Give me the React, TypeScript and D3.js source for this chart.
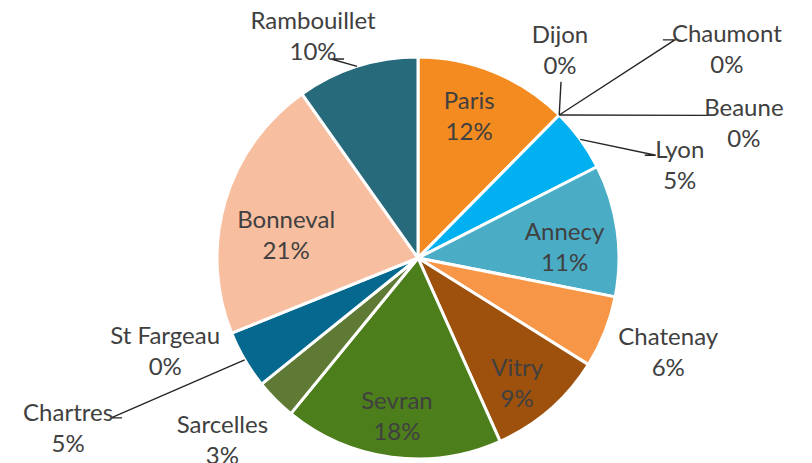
import React from "react";
import * as d3 from "d3";

// ---- data ----
const categories = [
  "Paris", "Dijon", "Chaumont", "Beaune", "Lyon", "Annecy", "Chatenay",
  "Vitry", "Sevran", "Sarcelles", "Chartres", "St Fargeau", "Bonneval", "Rambouillet",
];
const values = [12.4, 0, 0, 0, 5.1, 10.6, 5.8, 9.4, 17.6, 3.3, 4.7, 0, 21.3, 9.8];
const colors = [
  "#F38B21", "#7F7F7F", "#7F7F7F", "#7F7F7F", "#00B0F0", "#4BACC6", "#F79646",
  "#9E500D", "#4C7E1C", "#5F7A34", "#05698F", "#A5A5A5", "#F8BEA0", "#276A7B",
];

// label placement (polar: angle in degrees clockwise from 12 o'clock, radius in px)
// leader: end offset relative to label centre, elbow horizontal length toward pie
type Layout = { a: number; r: number; leader?: { ex: number; ey: number; elbow: number } };
const layout: Layout[] = [
  { a: 19.8, r: 151 },
  { a: 34.3, r: 252, leader: { ex: 1, ey: 32, elbow: 0 } },
  { a: 55.9, r: 373, leader: { ex: -64, ey: -9, elbow: 12 } },
  { a: 67.4, r: 353, leader: { ex: -36, ey: -7, elbow: 0 } },
  { a: 70.3, r: 278, leader: { ex: -35, ey: -9, elbow: 11 } },
  { a: 85.7, r: 147 },
  { a: 110.4, r: 267 },
  { a: 141.4, r: 159 },
  { a: 187.6, r: 159 },
  { a: 227.1, r: 267 },
  { a: 244.1, r: 389, leader: { ex: 54, ey: -10, elbow: -11 } },
  { a: 250, r: 269 },
  { a: 280.3, r: 134 },
  { a: 334.7, r: 245.6, leader: { ex: 31, ey: 23, elbow: -13 } },
];

const W = 812;
const H = 463;
const cx = 418;
const cy = 258;
const R = 201;
const FONT = "Lato, 'Noto Sans', sans-serif";
const TEXT = "#404040";
const FS = 24;

export default function App() {
  const total = d3.sum(values);
  const pie = d3
    .pie<number>()
    .sort(null)
    .value((d) => d)
    .startAngle(0)
    .endAngle(2 * Math.PI);
  const arcs = pie(values);
  const arc = d3.arc<d3.PieArcDatum<number>>().innerRadius(0).outerRadius(R);

  const polar = (deg: number, r: number): [number, number] => {
    const t = (deg * Math.PI) / 180;
    return [cx + r * Math.sin(t), cy - r * Math.cos(t)];
  };

  return (
    <svg
      width={W}
      height={H}
      style={{ position: "absolute", left: 0, top: 0, background: "#fff" }}
      fontFamily={FONT}
    >
      <g transform={`translate(${cx},${cy})`}>
        {arcs.map((a, i) =>
          a.value > 0 ? (
            <path key={i} d={arc(a) || ""} fill={colors[i]} stroke="#fff" strokeWidth={3} strokeLinejoin="round" />
          ) : null
        )}
      </g>
      {arcs.map((a, i) => {
        const L = layout[i];
        const [lx, ly] = polar(L.a, L.r);
        const pct = `${Math.round((values[i] / total) * 100)}%`;
        let leader = null;
        if (L.leader) {
          const mid = ((a.startAngle + a.endAngle) / 2) * (180 / Math.PI);
          const [px, py] = polar(mid, R);
          const ex = lx + L.leader.ex;
          const ey = ly + L.leader.ey;
          const pts: [number, number][] = [[px, py]];
          if (L.leader.elbow !== 0) pts.push([ex + L.leader.elbow, ey]);
          pts.push([ex, ey]);
          leader = (
            <path
              d={d3.line()(pts) || ""}
              fill="none"
              stroke="#262626"
              strokeWidth={1.4}
            />
          );
        }
        return (
          <g key={`l${i}`}>
            {leader}
            <text
              x={lx}
              y={ly - 16}
              textAnchor="middle"
              dominantBaseline="central"
              fontSize={FS}
              fill={TEXT}
            >
              {categories[i]}
            </text>
            <text
              x={lx}
              y={ly + 15}
              textAnchor="middle"
              dominantBaseline="central"
              fontSize={FS}
              fill={TEXT}
            >
              {pct}
            </text>
          </g>
        );
      })}
    </svg>
  );
}
